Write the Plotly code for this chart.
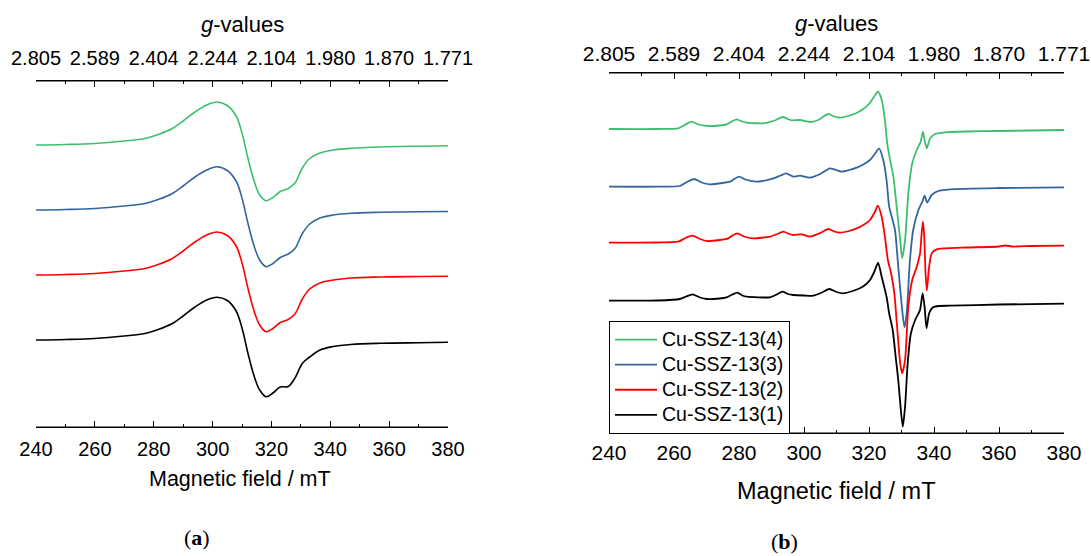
import plotly.graph_objects as go

# ---------------- data (a.u.) ----------------
# Panel (a): common magnetic-field grid (mT)
field_a = [240, 250, 260, 270, 277, 282, 286, 290, 294, 298, 301.5, 305, 308, 310, 312,
           314, 316, 318.2, 320.5, 323, 325.7, 328, 330.5, 333, 336.5, 341, 347, 357, 370, 380]
esr_a4 = [280, 280.5, 281.5, 284, 286.5, 291, 296, 304, 313, 320, 323, 319.5, 309, 292, 267,
          245, 230, 224.3, 227.5, 233.5, 236.5, 242, 257, 266.5, 272, 275, 276.7, 278, 278.8, 279.2]
esr_a3 = [215, 215.5, 216.5, 219, 221.5, 226, 231, 239, 248, 255, 258.3, 254.5, 244, 227, 202,
          180, 165, 158.3, 161.5, 167.5, 171, 176.5, 191.5, 201, 207, 210, 211.7, 212.7, 213.3, 213.5]
esr_a2 = [150, 150.5, 151.5, 154, 156.5, 161, 166, 174, 183, 190, 193, 189.5, 179, 162, 137,
          115, 100, 93.3, 96.5, 102.5, 105.5, 111, 126, 136, 142, 145, 147, 148, 148.5, 148.8]
esr_a1 = [85, 85.5, 86.5, 89, 91.5, 96, 101, 109, 118, 125, 127.7, 124.5, 114, 97, 72,
          50, 35, 28.3, 32, 38, 38.5, 47, 61.5, 68, 75, 78.5, 80.5, 81.7, 82.3, 82.7]

# Panel (b): each spectrum with its own field points (mT)
field_b4 = [240, 255, 261.3, 263.5, 265.4, 267.5, 270.6, 274, 276.2, 278, 279.3, 281, 282.4, 287.5,
            291, 293.4, 295, 296.2, 298.8, 301.8, 304.4, 306, 307.5, 309.3, 311.1, 313.5, 316, 318,
            320, 321.5, 322.8, 323.9, 324.9, 325.6, 326.5, 327.5, 328.5, 329.5, 330.2, 331.1, 332.1,
            333.3, 334.7, 335.9, 336.6, 337.2, 337.8, 338.8, 340.3, 343.4, 350, 360, 370, 380]
esr_b4 = [304, 304, 304.7, 308.5, 311.3, 308.5, 307, 307.5, 308.7, 312, 313.7, 311.5, 310.3, 309.7,
          312.5, 316, 314, 312.7, 313, 311, 313, 316.5, 319, 316.5, 315.3, 317, 319.7, 323.5,
          329, 336, 341.5, 333, 313, 289.7, 273, 256.3, 226.3, 196.3, 174.7, 193, 239.7,
          269.7, 283, 291.3, 301.3, 291.3, 284.7, 294.7, 299, 300.7, 301.5, 302, 302.5, 303]

field_b3 = [240, 255, 261.8, 264, 266.2, 268.5, 271.1, 275, 277.2, 278.8, 280.1, 282, 285.4, 290.6,
            292.8, 294.5, 296.7, 298.8, 301.8, 305, 308, 311.6, 314, 316.2, 318.5, 320.3, 322, 323.1,
            324.4, 325.4, 326.2, 327, 328, 329, 330.1, 330.9, 331.6, 332.6, 333.6, 335.2, 336.4,
            337.1, 337.9, 339.3, 341.3, 345, 360, 380]
esr_b3 = [246.3, 246.3, 247, 251, 254, 250.5, 248.7, 250, 251.3, 254.5, 256.3, 253.5, 251.3, 254.7,
          257.5, 259.7, 256.3, 257.3, 255.3, 259, 264.7, 261.3, 263, 265.3, 269, 273, 280, 284.7,
          273, 253, 226.3, 216.3, 203, 166.3, 126.3, 105.7, 119.7, 173, 203, 223, 231.3,
          237.3, 230.3, 238, 242, 243.7, 245, 245.7]

field_b2 = [240, 255, 261.3, 263.5, 265.7, 268, 270.1, 274, 276.7, 278.2, 279.5, 281.5, 284.4, 289.5,
            291.8, 293.6, 295.5, 296.7, 299.3, 301.8, 305, 307.5, 309.3, 311.1, 313.8, 316.2, 318.5,
            320.3, 321.8, 322.7, 323.9, 324.9, 325.8, 326.8, 327.8, 328.8, 329.6, 330.2, 331.1, 332.1,
            333.3, 334.7, 335.7, 336.2, 336.6, 337, 337.4, 337.8, 338.5, 339.3, 340.8, 343.4, 350,
            360, 362, 364, 370, 380]
esr_b2 = [190.3, 190.5, 191.3, 195, 197.3, 194, 192, 193, 194.7, 198, 199.7, 196.5, 194.7, 196.3,
          199, 201.3, 199, 198, 198.7, 196.3, 200, 204, 201.5, 200.3, 202, 204.7, 208.5,
          213, 221, 227.3, 216.3, 196.3, 173, 159.7, 139.7, 99.7, 69.7, 59.7, 73, 126.3,
          153, 166.3, 179.7, 199.7, 211.3, 196.3, 159.7, 142.3, 166.3, 179.7, 183.7, 184.7, 185.5,
          186.5, 187.5, 186.5, 187, 187.3]

field_b1 = [240, 255, 261.8, 263.8, 265.7, 268, 270.1, 274, 276.2, 278, 279.5, 281, 282.4, 289.5,
            291.6, 293.4, 295, 296.7, 300, 302.9, 305.5, 307.8, 310, 312.1, 315, 317.2, 319, 320.3,
            321.6, 322.8, 323.9, 325.4, 326.2, 327.3, 328.2, 329, 329.8, 330.4, 331.1, 331.9, 332.9,
            334.2, 335.7, 336.5, 337.1, 337.7, 338.5, 339.5, 341.3, 345, 360, 380]
esr_b1 = [132.3, 132.5, 134, 136.5, 138.7, 135.5, 134, 134.5, 135.7, 138.5, 140.3, 137.5, 136.3, 135.7,
          138.5, 141.3, 139, 138, 137.5, 137.3, 140.5, 144, 141, 139.7, 142, 144.7, 148.5, 153,
          161, 170.3, 156.3, 136.3, 119.7, 103, 76.3, 53, 23, 6.3, 26.3, 69.7, 99.7,
          113, 123, 139.7, 126.3, 104.7, 119.7, 125.3, 127, 127.3, 128.5, 129.3]

series_names = ["Cu-SSZ-13(4)", "Cu-SSZ-13(3)", "Cu-SSZ-13(2)", "Cu-SSZ-13(1)"]
colors = ["#3DBF6F", "#33669E", "#FF0000", "#000000"]

field_ticks = [240, 260, 280, 300, 320, 340, 360, 380]
field_minor = [250, 270, 290, 310, 330, 350, 370]
g_ticktext = ["2.805", "2.589", "2.404", "2.244", "2.104", "1.980", "1.870", "1.771"]

# ---------------- figure ----------------
W, H = 1091, 556
FONT = "Liberation Sans, Arial, sans-serif"
fig = go.Figure()

a_series = [esr_a4, esr_a3, esr_a2, esr_a1]
for name, col, ys in zip(series_names, colors, a_series):
    fig.add_trace(go.Scatter(x=field_a, y=ys, mode="lines", name=name, showlegend=False,
                             line=dict(color=col, width=1.6, shape="spline", smoothing=1.0),
                             xaxis="x", yaxis="y", hoverinfo="skip"))

b_fields = [field_b4, field_b3, field_b2, field_b1]
b_series = [esr_b4, esr_b3, esr_b2, esr_b1]
for name, col, xs, ys in zip(series_names, colors, b_fields, b_series):
    fig.add_trace(go.Scatter(x=xs, y=ys, mode="lines",
                             name='<span style="font-size:19.5px">' + name + "</span>",
                             showlegend=True,
                             line=dict(color=col, width=1.8, shape="spline", smoothing=0.6),
                             xaxis="x2", yaxis="y2", hoverinfo="skip"))


def px_x(p):
    return p / W


def px_y(p):
    return 1 - p / H


def bottom_axis(domain, fs, standoff):
    return dict(domain=domain, range=[240, 380], tickmode="array", tickvals=field_ticks,
                ticks="inside", ticklen=6, tickwidth=1, tickcolor="black", automargin=False,
                showline=True, linecolor="black", linewidth=1, showgrid=False, zeroline=False,
                tickfont=dict(family=FONT, size=fs, color="black"), ticklabelstandoff=standoff,
                minor=dict(tickmode="array", tickvals=field_minor, ticks="inside", ticklen=3,
                           tickwidth=1, tickcolor="black", showgrid=False))


def top_axis(over, anchor, fs, standoff):
    return dict(overlaying=over, anchor=anchor, side="top", range=[240, 380], tickmode="array",
                tickvals=field_ticks, ticktext=g_ticktext, automargin=False,
                ticks="inside", ticklen=6, tickwidth=1, tickcolor="black",
                showline=True, linecolor="black", linewidth=1, showgrid=False, zeroline=False,
                tickfont=dict(family=FONT, size=fs, color="black"), ticklabelstandoff=standoff,
                minor=dict(tickmode="array", tickvals=field_minor, ticks="inside", ticklen=3,
                           tickwidth=1, tickcolor="black", showgrid=False))


fig.update_layout(
    width=W, height=H, margin=dict(l=0, r=0, t=0, b=0, autoexpand=False),
    paper_bgcolor="white", plot_bgcolor="white",
    xaxis=bottom_axis([px_x(36), px_x(448)], 20, 4),
    yaxis=dict(domain=[px_y(427), px_y(81)], range=[-2, 344], visible=False, automargin=False),
    xaxis2=dict(bottom_axis([px_x(609), px_x(1064)], 21, 1), anchor="y2"),
    yaxis2=dict(domain=[px_y(433), px_y(73)], range=[0, 360], visible=False, anchor="x2",
                automargin=False),
    xaxis3=top_axis("x", "y", 20, 7),
    xaxis4=top_axis("x2", "y2", 21, 3),
    legend=dict(x=px_x(609), y=px_y(321), xanchor="left", yanchor="top",
                bgcolor="white", bordercolor="black", borderwidth=1,
                font=dict(family=FONT, size=17, color="black"), itemwidth=42,
                tracegroupgap=0),
    showlegend=True,
)

# axis frame lines (bottom and top of each panel)
for xr, yr in (("x domain", "y domain"), ("x2 domain", "y2 domain")):
    for yy in (0, 1):
        fig.add_shape(type="line", xref=xr, yref=yr, x0=0, x1=1, y0=yy, y1=yy,
                      line=dict(color="black", width=1), layer="above")

# dummy traces so the top axes render
fig.add_trace(go.Scatter(x=[240, 380], y=[None, None], xaxis="x3", yaxis="y", showlegend=False,
                         hoverinfo="skip"))
fig.add_trace(go.Scatter(x=[240, 380], y=[None, None], xaxis="x4", yaxis="y2", showlegend=False,
                         hoverinfo="skip"))

ann = [
    dict(x=px_x(242), y=px_y(25), text="<i>g</i>-values", size=22, fam=FONT),
    dict(x=px_x(836.5), y=px_y(24), text="<i>g</i>-values", size=22, fam=FONT),
    dict(x=px_x(240), y=px_y(479), text="Magnetic field / mT", size=21.5, fam=FONT),
    dict(x=px_x(836), y=px_y(491), text="Magnetic field / mT", size=23.5, fam=FONT),
    dict(x=px_x(197), y=px_y(537), text="(<b>a</b>)", size=22, fam="Liberation Serif, serif"),
    dict(x=px_x(784), y=px_y(541), text="(<b>b</b>)", size=22, fam="Liberation Serif, serif"),
]
for a in ann:
    fig.add_annotation(x=a["x"], y=a["y"], xref="paper", yref="paper", text=a["text"],
                       showarrow=False, xanchor="center", yanchor="middle",
                       font=dict(family=a["fam"], size=a["size"], color="black"))

fig.write_html("out.html")
